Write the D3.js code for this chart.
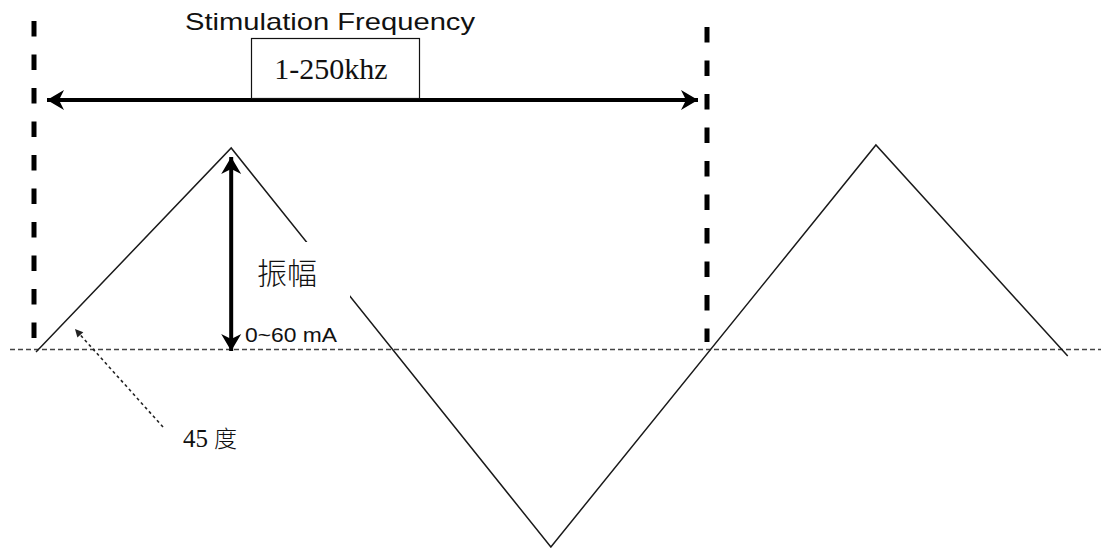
<!DOCTYPE html>
<html>
<head>
<meta charset="utf-8">
<script src="https://cdn.jsdelivr.net/npm/d3@7"></script>
<style>
  body { margin: 0; background: #fff; }
  svg { display: block; }
</style>
</head>
<body>
<div id="chart"></div>
<script>
// wave in periods (t) and relative amplitude (a)
const waveT = [0.003, 0.293, 0.768, 1.251, 1.536];
const waveA = [-0.01, 1.01, -0.985, 1.025, -0.03];

// period markers (dashed verticals), in periods
const periodT = [0, 1];

const titleText = 'Stimulation Frequency';
const freqText = '1-250khz';
const ampText = '振幅';
const ampRangeText = '0~60 mA';
const angleNum = '45';
const angleUnit = '度';

class TriangleWaveChart {

    constructor(wrapper) {
        this.width = 1101;
        this.height = 548;

        let thisObject = this;

        this.x = d3.scaleLinear().domain([0, 1]).range([34, 707]);
        this.y = d3.scaleLinear().domain([-1, 1]).range([550, 150]);

        this.svg = d3.select(wrapper).append('svg')
            .attr('width', this.width)
            .attr('height', this.height);

        let defs = this.svg.append('defs');

        defs.append('marker')
            .attr('id', 'bigArrow')
            .attr('viewBox', '-18 -11 20 22')
            .attr('refX', 0).attr('refY', 0)
            .attr('markerUnits', 'userSpaceOnUse')
            .attr('markerWidth', 20).attr('markerHeight', 22)
            .attr('orient', 'auto-start-reverse')
            .append('path')
            .attr('d', 'M0,0 L-17,-10 L-12,0 L-17,10 Z')
            .attr('fill', '#000');

        defs.append('marker')
            .attr('id', 'smallArrow')
            .attr('viewBox', '-9 -5 10 10')
            .attr('refX', 0).attr('refY', 0)
            .attr('markerUnits', 'userSpaceOnUse')
            .attr('markerWidth', 10).attr('markerHeight', 10)
            .attr('orient', 'auto')
            .append('path')
            .attr('d', 'M0,0 L-8,-4 L-8,4 Z')
            .attr('fill', '#222');

        let y0 = this.y(0);

        // baseline
        this.svg.append('line')
            .attr('x1', 10).attr('x2', this.width)
            .attr('y1', y0 - 0.5).attr('y2', y0 - 0.5)
            .attr('stroke', '#444')
            .attr('stroke-width', 1.6)
            .attr('stroke-dasharray', '5,3');

        // triangle wave
        let line = d3.line()
            .x(d => thisObject.x(d[0]))
            .y(d => thisObject.y(d[1]));

        this.svg.append('path')
            .datum(d3.zip(waveT, waveA))
            .attr('d', line)
            .attr('fill', 'none')
            .attr('stroke', '#1a1a1a')
            .attr('stroke-width', 1.5);

        // period markers
        this.svg.selectAll('line.period')
            .data(periodT)
            .enter().append('line')
            .attr('class', 'period')
            .attr('x1', d => thisObject.x(d))
            .attr('x2', d => thisObject.x(d))
            .attr('y1', (d, i) => i === 0 ? 21 : 27)
            .attr('y2', y0 - 8)
            .attr('stroke', '#000')
            .attr('stroke-width', 5)
            .attr('stroke-dasharray', '15.5,18');

        // frequency arrow
        this.svg.append('line')
            .attr('x1', this.x(0) + 13).attr('x2', this.x(1) - 9)
            .attr('y1', 100).attr('y2', 100)
            .attr('stroke', '#000')
            .attr('stroke-width', 4)
            .attr('marker-start', 'url(#bigArrow)')
            .attr('marker-end', 'url(#bigArrow)');

        this.svg.append('rect')
            .attr('x', 251.5).attr('y', 38.5)
            .attr('width', 168).attr('height', 60)
            .attr('fill', '#fff')
            .attr('stroke', '#111')
            .attr('stroke-width', 1.2);

        this.svg.append('text')
            .attr('x', 331).attr('y', 79)
            .attr('text-anchor', 'middle')
            .attr('font-family', '"Liberation Serif", "Times New Roman", serif')
            .attr('font-size', 30)
            .attr('fill', '#111')
            .text(freqText);

        this.svg.append('text')
            .attr('x', 185).attr('y', 30)
            .attr('textLength', 290)
            .attr('lengthAdjust', 'spacingAndGlyphs')
            .attr('font-family', '"Liberation Sans", Arial, sans-serif')
            .attr('font-size', 24)
            .attr('fill', '#111')
            .text(titleText);

        // amplitude label box hides part of the falling edge
        this.svg.append('rect')
            .attr('x', 245).attr('y', 242)
            .attr('width', 105).attr('height', 57)
            .attr('fill', '#fff');

        this.svg.append('text')
            .attr('x', 257).attr('y', 284)
            .attr('font-family', '"Noto Sans CJK SC", sans-serif')
            .attr('font-weight', 300)
            .attr('font-size', 30)
            .attr('fill', '#111')
            .text(ampText);

        let peakX = this.x(waveT[1]);
        this.svg.append('line')
            .attr('x1', peakX).attr('x2', peakX)
            .attr('y1', this.y(waveA[1]) + 9).attr('y2', y0 + 3 - 2)
            .attr('stroke', '#000')
            .attr('stroke-width', 4)
            .attr('marker-start', 'url(#bigArrow)')
            .attr('marker-end', 'url(#bigArrow)');

        this.svg.append('text')
            .attr('x', 245).attr('y', 342)
            .attr('textLength', 92)
            .attr('lengthAdjust', 'spacingAndGlyphs')
            .attr('font-family', '"Liberation Sans", Arial, sans-serif')
            .attr('font-size', 21)
            .attr('fill', '#111')
            .text(ampRangeText);

        // angle pointer
        this.svg.append('line')
            .attr('x1', 163).attr('y1', 427)
            .attr('x2', 75).attr('y2', 329)
            .attr('stroke', '#222')
            .attr('stroke-width', 1.6)
            .attr('stroke-dasharray', '3,3')
            .attr('marker-end', 'url(#smallArrow)');

        let angle = this.svg.append('text')
            .attr('x', 183).attr('y', 447)
            .attr('fill', '#111');
        angle.append('tspan')
            .attr('font-family', '"Liberation Serif", "Times New Roman", serif')
            .attr('font-size', 25)
            .text(angleNum);
        angle.append('tspan')
            .attr('dx', 6)
            .attr('font-family', '"Noto Sans CJK SC", sans-serif')
            .attr('font-weight', 300)
            .attr('font-size', 23)
            .text(angleUnit);
    }
}

new TriangleWaveChart(document.getElementById('chart'));
</script>
</body>
</html>
